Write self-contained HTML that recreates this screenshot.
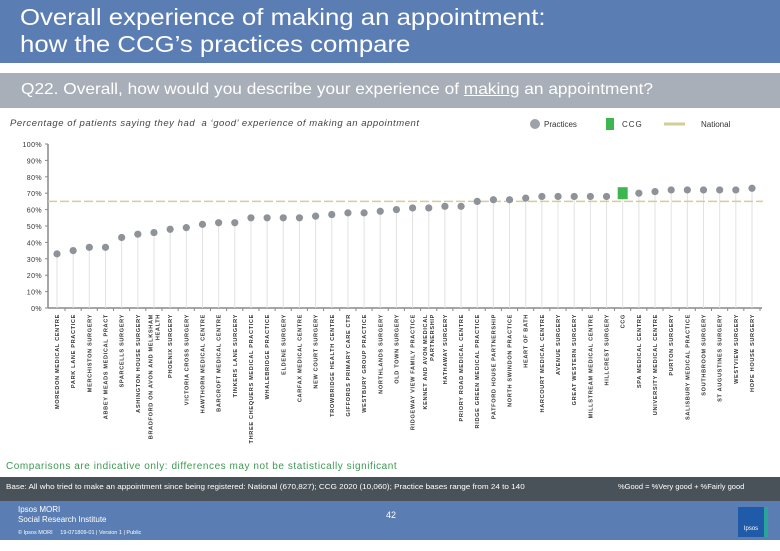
<!DOCTYPE html>
<html><head><meta charset="utf-8"><style>
body{margin:0;width:780px;height:540px;overflow:hidden;background:#fff;font-family:"Liberation Sans",sans-serif;position:relative}
.abs{position:absolute;white-space:nowrap}
</style></head><body>
<div class="abs" style="left:0;top:0;width:780px;height:63px;background:#5A7DB4"></div>
<div class="abs" style="left:20px;top:4px;color:#fff;font-size:23px;line-height:27px;transform:scaleX(1.12);transform-origin:0 0">Overall experience of making an appointment:<br>how the CCG’s practices compare</div>
<div class="abs" style="left:0;top:73px;width:780px;height:35px;background:#A8AFB8"></div>
<div class="abs" style="left:21px;top:81px;color:#fff;font-size:16px;transform:scaleX(1.08);transform-origin:0 0">Q22. Overall, how would you describe your experience of <u>making</u> an appointment?</div>
<div class="abs" style="left:10px;top:118px;color:#444;font-size:9.5px;font-style:italic;letter-spacing:0.55px">Percentage of patients saying they had&nbsp; a ‘good’ experience of making an appointment</div>
<svg class="abs" style="left:0;top:0" width="780" height="540">
<g id="leg">
<circle cx="535" cy="124" r="5" fill="#9DA1A8"/><text x="544" y="127" font-size="8" fill="#333">Practices</text>
<rect x="606" y="118" width="8" height="12" fill="#3DB651"/><text x="622" y="127" font-size="8" fill="#333" letter-spacing="1">CCG</text>
<line x1="664" y1="124" x2="685" y2="124" stroke="#D6CC98" stroke-width="3"/><text x="701" y="127" font-size="8" fill="#333">National</text>
</g>
<g id="plot"></g>
</svg>
<div class="abs" style="left:6px;top:461px;color:#3C9A52;font-size:10px;letter-spacing:0.55px">Comparisons are indicative only: differences may not be statistically significant</div>
<div class="abs" style="left:0;top:477px;width:780px;height:24px;background:#4A5259"></div>
<div class="abs" style="left:6px;top:482px;color:#fff;font-size:7.5px;transform:scaleX(1.08);transform-origin:0 0">Base: All who tried to make an appointment since being registered: National (670,827); CCG 2020 (10,060); Practice bases range from 24 to 140</div>
<div class="abs" style="left:618px;top:482px;color:#fff;font-size:7.5px">%Good = %Very good + %Fairly good</div>
<div class="abs" style="left:0;top:501px;width:780px;height:39px;background:#5A7DB4"></div>
<div class="abs" style="left:18px;top:505px;color:#fff;font-size:8px;line-height:10px">Ipsos MORI<br>Social Research Institute</div>
<div class="abs" style="left:18px;top:530px;color:#fff;font-size:5.5px">© Ipsos MORI&nbsp;&nbsp;&nbsp;&nbsp; 19-071809-01 | Version 1 | Public</div>
<div class="abs" style="left:386px;top:510px;color:#fff;font-size:9px">42</div>
<div class="abs" style="left:738px;top:507px;width:26px;height:30px;background:#1F5BA8;color:#fff;font-size:6px;text-align:center;line-height:44px;border-right:4px solid #2AA59A">Ipsos</div>
<script>
const names=["MOREDON MEDICAL CENTRE","PARK LANE PRACTICE","MERCHISTON SURGERY","ABBEY MEADS MEDICAL PRACT","SPARCELLS SURGERY","ASHINGTON HOUSE SURGERY","BRADFORD ON AVON AND MELKSHAM|HEALTH","PHOENIX SURGERY","VICTORIA CROSS SURGERY","HAWTHORN MEDICAL CENTRE","BARCROFT MEDICAL CENTRE","TINKERS LANE SURGERY","THREE CHEQUERS MEDICAL PRACTICE","WHALEBRIDGE PRACTICE","ELDENE SURGERY","CARFAX MEDICAL CENTRE","NEW COURT SURGERY","TROWBRIDGE HEALTH CENTRE","GIFFORDS PRIMARY CARE CTR","WESTBURY GROUP PRACTICE","NORTHLANDS SURGERY","OLD TOWN SURGERY","RIDGEWAY VIEW FAMILY PRACTICE","KENNET AND AVON MEDICAL|PARTNERSHIP","HATHAWAY SURGERY","PRIORY ROAD MEDICAL CENTRE","RIDGE GREEN MEDICAL PRACTICE","PATFORD HOUSE PARTNERSHIP","NORTH SWINDON PRACTICE","HEART OF BATH","HARCOURT MEDICAL CENTRE","AVENUE SURGERY","GREAT WESTERN SURGERY","MILLSTREAM MEDICAL CENTRE","HILLCREST SURGERY","CCG","SPA MEDICAL CENTRE","UNIVERSITY MEDICAL CENTRE","PURTON SURGERY","SALISBURY MEDICAL PRACTICE","SOUTHBROOM SURGERY","ST AUGUSTINES SURGERY","WESTVIEW SURGERY","HOPE HOUSE SURGERY"];
const values=[33,35,37,37,43,45,46,48,49,51,52,52,55,55,55,55,56,57,58,58,59,60,61,61,62,62,65,66,66,67,68,68,68,68,68,70,70,71,72,72,72,72,72,73];
const nationalValue=65;
const yTicks=[0,10,20,30,40,50,60,70,80,90,100];
const NS="http://www.w3.org/2000/svg";
const g=document.getElementById('plot');
const y=v=>308-v*1.64;
const x=i=>57+i*(752-57)/(names.length-1);
function mk(t,a){const e=document.createElementNS(NS,t);for(const k in a)e.setAttribute(k,a[k]);g.appendChild(e);return e;}
yTicks.forEach(t=>{
 const e=mk('text',{x:42,y:y(t)+3,'font-size':7,fill:'#333','text-anchor':'end','letter-spacing':'0.4'});e.textContent=t+'%';
 
 
 mk('line',{x1:45,x2:48,y1:y(t),y2:y(t),stroke:'#888','stroke-width':1});
});
let ax=mk('line',{x1:48,x2:48,y1:y(100),y2:y(0),stroke:'#888','stroke-width':1.5});


let xa=mk('line',{x1:48,x2:762,y1:y(0),y2:y(0),stroke:'#888','stroke-width':1.5});


names.forEach((n,i)=>{
 mk('line',{x1:x(i),x2:x(i),y1:y(values[i]),y2:y(0),stroke:'#E2E2E2','stroke-width':1});
 mk('line',{x1:x(i)+8,x2:x(i)+8,y1:y(0),y2:y(0)+3,stroke:'#888'});
});
let nat=mk('line',{x1:48,x2:763,y1:y(nationalValue),y2:y(nationalValue),stroke:'#D6CC98','stroke-width':1.5,'stroke-dasharray':'9,3'});


names.forEach((n,i)=>{
 let m;
 if(n==='CCG'){m=mk('rect',{x:x(i)-5,y:y(values[i])-6,width:10,height:12,fill:'#3DB651'});
  }
 else{m=mk('circle',{cx:x(i),cy:y(values[i]),r:3.6,fill:'#8E9299'});
  }
 
 const parts=n.split('|');
 parts.forEach((p,j)=>{
  const lx=x(i)+2+(j-(parts.length-1)/2)*7;
  const t=mk('text',{x:0,y:0,'font-size':5.6,fill:'#333','font-weight':'bold','text-anchor':'end',transform:`translate(${lx},${y(0)+6}) rotate(-90)`,'letter-spacing':'0.65'});
  t.textContent=p;
  
  
 });
});
</script>
</body></html>
